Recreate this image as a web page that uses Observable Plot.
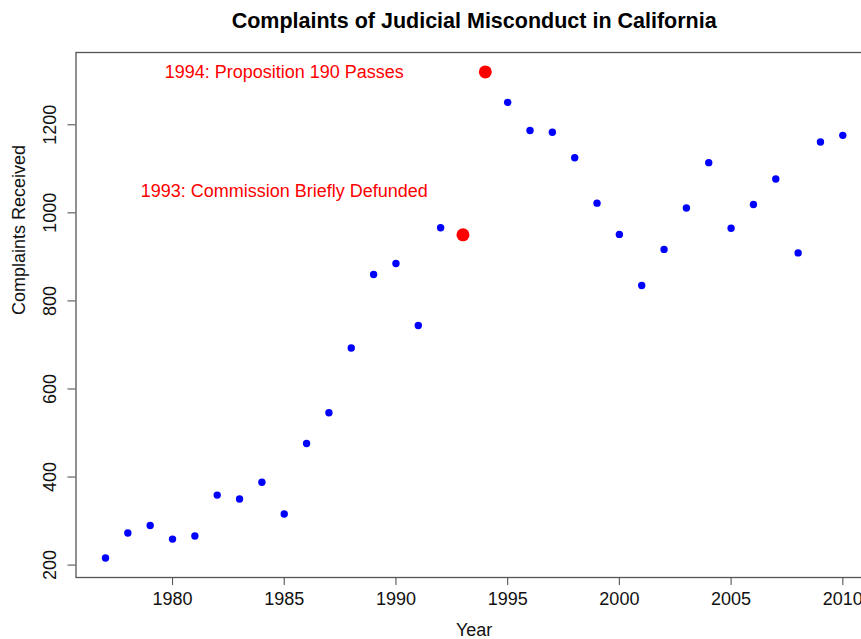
<!DOCTYPE html>
<html>
<head>
<meta charset="utf-8">
<script src="https://cdn.jsdelivr.net/npm/d3@7"></script>
<script src="https://cdn.jsdelivr.net/npm/@observablehq/plot@0.6"></script>
<style>
  html, body { margin: 0; padding: 0; background: white; overflow: hidden; }
  #chart svg { display: block; font-family: "Liberation Sans", Arial, Helvetica, sans-serif; }
</style>
</head>
<body>
<div id="chart"></div>
<script>
const years = [1977,1978,1979,1980,1981,1982,1983,1984,1985,1986,1987,1988,1989,1990,1991,1992,1993,1994,1995,1996,1997,1998,1999,2000,2001,2002,2003,2004,2005,2006,2007,2008,2009,2010];
const complaints = [216,273,290,259,266,359,350,388,316,476,546,693,860,885,744,966,950,1320,1251,1187,1183,1125,1022,951,835,917,1011,1114,965,1019,1077,909,1161,1176];
const highlightYears = [1993, 1994];
const noteYears = [1985, 1985];
const noteValues = [1320, 1050];
const noteTexts = ["1994: Proposition 190 Passes", "1993: Commission Briefly Defunded"];
const xTicks = [1980, 1985, 1990, 1995, 2000, 2005, 2010];
const yTicks = [200, 400, 600, 800, 1000, 1200];
const title = "Complaints of Judicial Misconduct in California";
const xLabel = "Year";
const yLabel = "Complaints Received";

const data = years.map((y, i) => ({year: y, value: complaints[i], hi: highlightYears.includes(y)}));
const notes = noteTexts.map((t, i) => ({year: noteYears[i], value: noteValues[i], text: t}));

// R-style 4% axis extension
const [x0, x1] = d3.extent(years);
const [y0, y1] = d3.extent(complaints);
const xDom = [x0 - 0.04 * (x1 - x0), x1 + 0.04 * (x1 - x0)];
const yDom = [y0 - 0.04 * (y1 - y0), y1 + 0.04 * (y1 - y0)];

const W = 861, H = 639;
const mL = 75.5, mT = 52, mB = 62;
const plotW = 871.8 - mL; // plot region extends past the right edge
const mR = W - (mL + plotW);

const fs = 18;
const ink = "#000";
const boxColor = "#555";

const chart = Plot.plot({
  width: W,
  height: H,
  marginLeft: mL,
  marginRight: mR,
  marginTop: mT,
  marginBottom: mB,
  style: {fontFamily: '"Liberation Sans", Arial, Helvetica, sans-serif', background: "white"},
  x: {domain: xDom, axis: null},
  y: {domain: yDom, axis: null},
  marks: [
    Plot.frame({stroke: boxColor, strokeWidth: 1.3}),
    Plot.axisX({ticks: xTicks, label: null, tickSize: 8, tickPadding: 7, tickFormat: d => String(d), fontSize: fs, stroke: boxColor, fill: "#111", strokeWidth: 1.1}),
    Plot.axisY({ticks: yTicks, label: null, tickSize: 8, tickFormat: () => "", stroke: boxColor, strokeWidth: 1.1}),
    Plot.text(yTicks, {x: xDom[0], y: d => d, text: d => String(d), rotate: -90, dx: -25.5, fontSize: fs, fill: "#111", textAnchor: "middle", lineAnchor: "middle"}),
    Plot.dot(data.filter(d => !d.hi), {x: "year", y: "value", r: 3.7, fill: "blue", stroke: "none"}),
    Plot.dot(data.filter(d => d.hi), {x: "year", y: "value", r: 6.5, fill: "red", stroke: "none"}),
    Plot.text(notes, {x: "year", y: "value", text: "text", fill: "red", fontSize: fs, textAnchor: "middle", lineAnchor: "middle"}),
    Plot.text([title], {frameAnchor: "top", text: d => d, dy: -31, fontSize: 21.5, fontWeight: "bold", fill: ink, lineAnchor: "middle"}),
    Plot.text([xLabel], {frameAnchor: "bottom", text: d => d, dy: 53, fontSize: fs, fill: "#111", lineAnchor: "middle"}),
    Plot.text([yLabel], {frameAnchor: "left", text: d => d, dx: -57, rotate: -90, fontSize: fs, fill: "#111", lineAnchor: "middle"})
  ]
});
document.getElementById("chart").appendChild(chart);
</script>
</body>
</html>
